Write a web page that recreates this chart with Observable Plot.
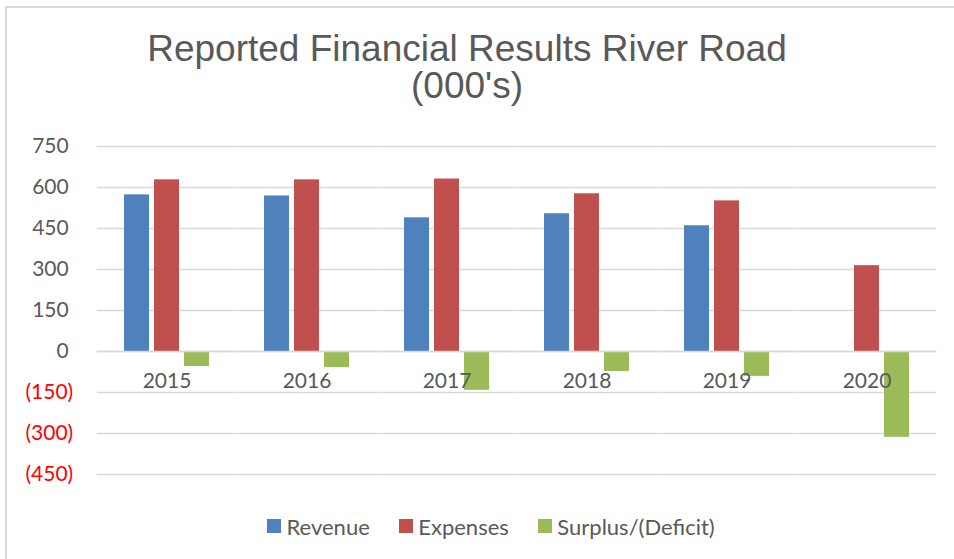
<!DOCTYPE html>
<html>
<head>
<meta charset="utf-8">
<script src="https://cdn.jsdelivr.net/npm/d3@7"></script>
<script src="https://cdn.jsdelivr.net/npm/@observablehq/plot@0.6"></script>
<style>
  html, body { margin: 0; padding: 0; background: #fff; }
  body { width: 954px; height: 559px; position: relative; overflow: hidden; font-family: Lato, sans-serif; }
  #frame { position: absolute; left: 5px; top: 6px; width: 1200px; height: 800px; border-top: 2px solid #d9d9d9; border-left: 2px solid #d9d9d9; }
  #title { position: absolute; left: 0; top: 30px; width: 934px; text-align: center; font-family: "Liberation Sans", Arial, sans-serif; font-size: 37px; line-height: 37px; color: #595959; }
  #chart { position: absolute; left: 0; top: 130px; }
  #legend { position: absolute; left: 267px; top: 514px; display: flex; align-items: center; font-size: 22px; color: #595959; height: 24px; }
  .item { display: flex; align-items: center; margin-right: 29px; }
  .sw { width: 14px; height: 14px; margin-right: 5.5px; }
</style>
</head>
<body>
<div id="frame"></div>
<div id="title">Reported Financial Results River Road<br>(000's)</div>
<div id="chart"></div>
<div id="legend"></div>
<script>
const years = ["2015", "2016", "2017", "2018", "2019", "2020"];
const seriesNames = ["Revenue", "Expenses", "Surplus/(Deficit)"];
const revenue = [573, 569, 489, 504, 460, 0];
const expenses = [628, 628, 631, 577, 551, 314];
const surplus = [-55, -59, -142, -73, -91, -314];
const yTicks = [-450, -300, -150, 0, 150, 300, 450, 600, 750];
const colors = ["#4f81bd", "#c0504d", "#9bbb59"];

const seriesValues = [revenue, expenses, surplus];
const data = [];
years.forEach((yr, i) => {
  seriesNames.forEach((s, j) => {
    data.push({year: yr, series: s, value: seriesValues[j][i]});
  });
});

const fmt = d => d < 0 ? `(${-d})` : `${d}\u2008`;
const gap = 26.3; // half of the gap between year groups (fills grid across facets)

const plot = Plot.plot({
  width: 954,
  height: 360,
  marginTop: 16,
  marginBottom: 16,
  marginLeft: 97,
  marginRight: 17,
  style: {fontFamily: "Lato, sans-serif", fontSize: "21px", color: "#595959", background: "transparent"},
  fx: {domain: years, paddingInner: 0.376, paddingOuter: 0.188, axis: null, label: null},
  x: {domain: seriesNames, paddingInner: 0.18, paddingOuter: 0, axis: null, label: null},
  y: {domain: [-450, 750], label: null},
  color: {domain: seriesNames, range: colors},
  marks: [
    Plot.ruleY(yTicks, {stroke: "#d9d9d9", strokeWidth: 1.5, insetLeft: -gap, insetRight: -gap}),
    Plot.axisY(yTicks, {
      tickSize: 0, tickPadding: 24 + gap, tickFormat: fmt, textAnchor: "end",
      fill: d => d < 0 ? "#ff0000" : "#595959",
      fontSize: 21, label: null
    }),
    Plot.barY(data, {fx: "year", x: "series", y: "value", fill: "series"}),
    Plot.ruleY([0], {stroke: "#d9d9d9", strokeWidth: 1.5, insetLeft: -gap, insetRight: -gap}),
    Plot.text(years, {fx: d => d, y: 0, text: d => d, dy: 30, fill: "#595959", fontSize: 21, lineAnchor: "middle"})
  ]
});
document.getElementById("chart").appendChild(plot);

const legend = document.getElementById("legend");
seriesNames.forEach((s, j) => {
  const item = document.createElement("div");
  item.className = "item";
  const sw = document.createElement("div");
  sw.className = "sw";
  sw.style.background = colors[j];
  const lab = document.createElement("span");
  lab.textContent = s;
  item.appendChild(sw);
  item.appendChild(lab);
  legend.appendChild(item);
});
</script>
</body>
</html>
